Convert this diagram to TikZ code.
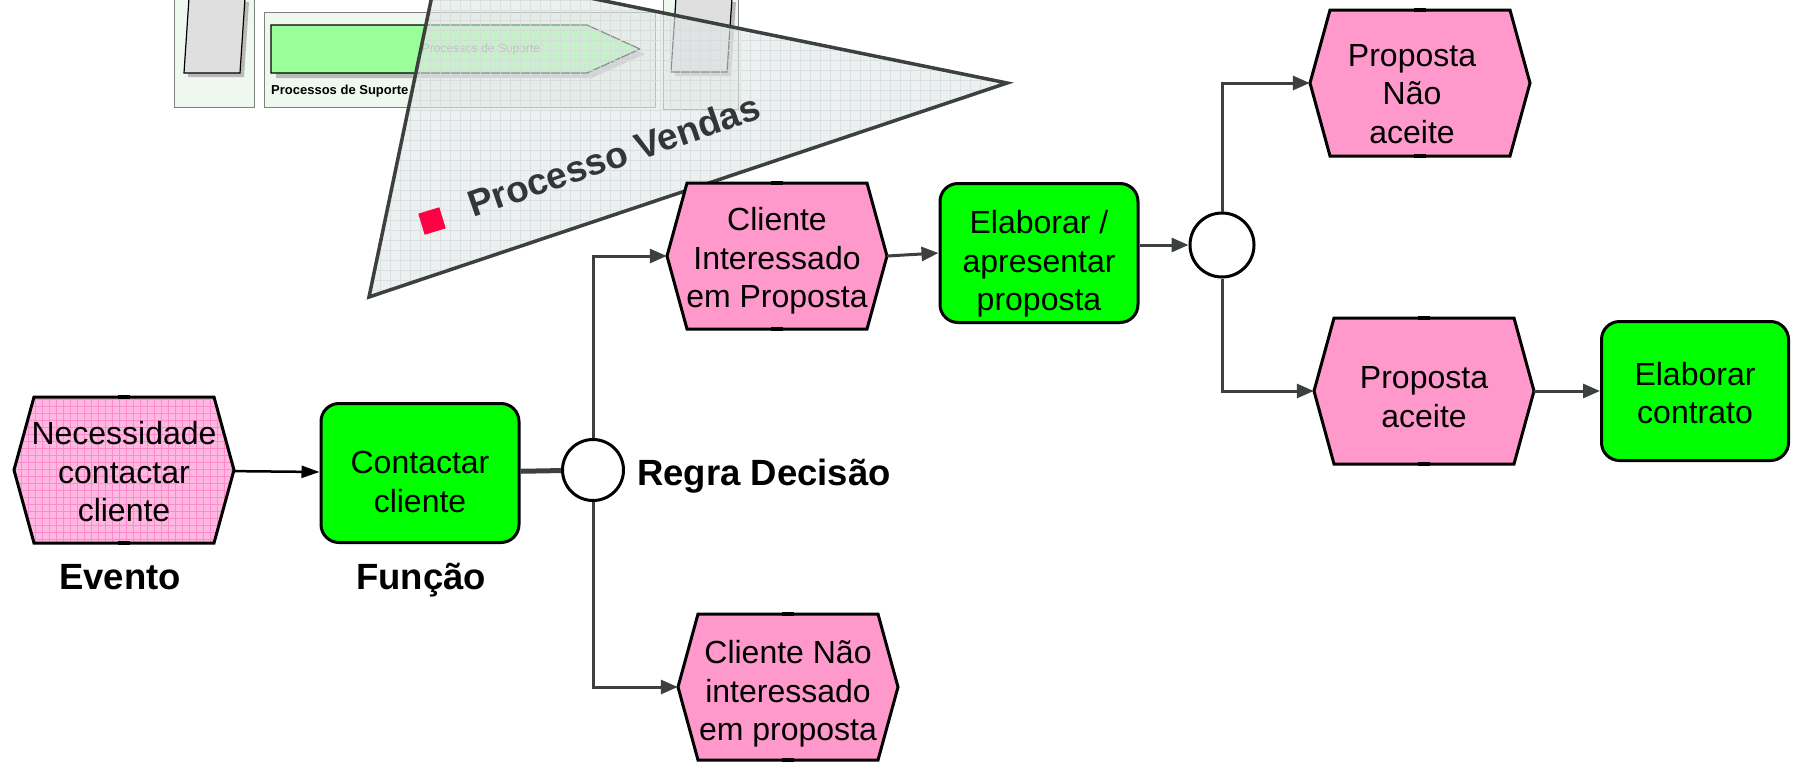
\documentclass[tikz,border=0pt]{standalone}
\usepackage{fontspec}
\setmainfont{Liberation Sans}
\usetikzlibrary{arrows.meta}

\definecolor{rosa}{HTML}{FF99CC}
\definecolor{rosaclaro}{HTML}{FFB8E2}
\definecolor{rosagrelha}{HTML}{FF8ACB}
\definecolor{verde}{HTML}{00FF00}
\definecolor{verdeclaro}{HTML}{99FF99}
\definecolor{painel}{HTML}{EEF8EE}
\definecolor{cinzalinha}{HTML}{3C403F}
\definecolor{cinzatri}{HTML}{E2E7E7}
\definecolor{grelha}{HTML}{D6DBDB}
\definecolor{vermelho}{HTML}{FF0044}

\tikzset{
	texto/.style={font=\fontsize{32}{38.5}\selectfont, align=center, inner sep=0pt},
	evento/.style={minimum width=220pt, minimum height=146pt, inner sep=0pt},
	funcao/.style={draw, line width=3pt, fill=verde, rounded corners=18pt, minimum width=198pt, minimum height=139pt, inner sep=0pt},
	regra/.style={circle, draw, line width=3pt, fill=white, minimum size=61pt, inner sep=0pt},
	rotulo/.style={font=\fontsize{36.5}{40}\selectfont\bfseries, inner sep=0pt},
	fluxo/.style={draw=cinzalinha, line width=3pt, -{Triangle[length=17pt,width=14pt]}},
	hexlinha/.style={draw, line width=3pt, fill=rosa},
	ladrilho/.style={fill=gray!25, draw=black, line width=1.2pt},
	sombra/.style={fill=gray!55},
}

% hexagono de evento: [opcoes] {x} {y}
\newcommand{\hexa}[3][]{%
	\draw[hexlinha,#1] (#2-110,#3) -- (#2-90,#3-73) -- (#2+90,#3-73) -- (#2+110,#3) -- (#2+90,#3+73) -- (#2-90,#3+73) -- cycle;
	\fill (#2-6,#3-75) rectangle (#2+6,#3-71);
	\fill (#2-6,#3+71) rectangle (#2+6,#3+75);
}

\begin{document}
\begin{tikzpicture}[x=1pt,y=-1pt]

	\useasboundingbox (0,0) rectangle (1793,761);
	\clip (0,0) rectangle (1793,761);

	% recorte do modelo de cima
	\filldraw[fill=painel, draw=gray, line width=1pt] (174,-2) rectangle (254,107);
	\fill[sombra] (193,2) -- (188,77) -- (244,77) -- (249,2) -- cycle;
	\draw[ladrilho] (189,-2) -- (184,73) -- (240,73) -- (245,-2) -- cycle;

	\filldraw[fill=painel, draw=gray, line width=1pt] (264,12) rectangle (655,107);
	\fill[sombra] (276,30) -- (592,30) -- (645,54) -- (592,78) -- (276,78) -- cycle;
	\filldraw[fill=verdeclaro, draw=black, line width=1.2pt] (271,25) -- (587,25) -- (640,49) -- (587,73) -- (271,73) -- cycle;
	\node[text=gray, font=\fontsize{12}{14}\selectfont, inner sep=0pt] (supA) at (481,49) {Processos de Suporte};
	\node[anchor=west, font=\fontsize{13}{15}\selectfont\bfseries, inner sep=0pt] (supB) at (271,91) {Processos de Suporte};

	\filldraw[fill=painel, draw=gray, line width=1pt] (663,-2) rectangle (738,109);
	\fill[sombra] (680,2) -- (675,76) -- (731,76) -- (736,2) -- cycle;
	\draw[ladrilho] (676,-2) -- (671,72) -- (727,72) -- (732,-2) -- cycle;

	% triangulo Processo Vendas
	\fill[cinzatri, fill opacity=0.62] (438,-33) -- (369,297) -- (1007,83) -- cycle;
	\begin{scope}
		\clip (438,-33) -- (369,297) -- (1007,83) -- cycle;
		\draw[grelha, line width=0.5pt, draw opacity=0.8, step=10pt] (360,-40) grid (1010,300);
	\end{scope}
	\draw[cinzalinha, line width=3.5pt, line join=miter] (438,-33) -- (369,297) -- (1007,83) -- cycle;
	\node[rotate=19, anchor=base, text=cinzalinha!85!black, font=\fontsize{37}{40}\selectfont\bfseries, inner sep=0pt] (vendas) at (618,168) {Processo Vendas};
	\node[fill=vermelho, minimum size=22pt, inner sep=0pt, rotate=17] (marca) at (432,221) {};

	% eventos
	\hexa[fill=rosaclaro, path picture={\draw[rosagrelha, line width=0.6pt, step=7pt] (path picture bounding box.south west) grid (path picture bounding box.north east);}]{124}{470}
	\hexa{777}{256}
	\hexa{788}{687}
	\hexa{1420}{83}
	\hexa{1424}{391}

	\node[evento, label={[texto, yshift=-2pt]center:{Necessidade\\contactar\\cliente}}] (nec) at (124,470) {};
	\node[evento, label={[texto, yshift=-5pt]center:{Cliente\\Interessado\\em Proposta}}] (cli) at (777,256) {};
	\node[evento, label={[texto, yshift=-7pt]center:{Cliente Não\\interessado\\em proposta}}] (clin) at (788,687) {};
	\node[evento, label={[texto, yshift=-11pt, xshift=-8pt]center:{Proposta\\Não\\aceite}}] (pna) at (1420,83) {};
	\node[evento, label={[texto, yshift=-6pt]center:{Proposta\\aceite}}] (pa) at (1424,391) {};

	% funcoes e regras
	\node[funcao, label={[texto, yshift=-9pt]center:{Contactar\\cliente}}] (cont) at (420,473) {};
	\node[funcao, label={[texto, yshift=-11pt]center:{Elaborar /\\apresentar\\proposta}}] (elab) at (1039,253) {};
	\node[funcao, minimum width=187pt, label={[texto, yshift=-2pt]center:{Elaborar\\contrato}}] (ec) at (1695,391) {};

	\node[regra] (d1) at (593,470) {};
	\node[regra, minimum size=64pt] (c2) at (1222,245) {};

	\node[rotulo, anchor=base] (lev) at (120,589) {Evento};
	\node[rotulo, anchor=base] (lfu) at (421,589) {Função};
	\node[rotulo, anchor=base west] (lre) at (637,485) {Regra Decisão};

	% ligacoes
	\draw[black, line width=2.5pt, -{Triangle[length=18pt,width=12pt]}] (nec) -- (cont);
	\draw[cinzalinha, line width=5pt] (cont) -- (d1);
	\draw[fluxo] (d1.north) |- (cli.west);
	\draw[fluxo] (d1.south) |- (clin.west);
	\draw[fluxo] (cli.east) -- (elab.west);
	\draw[fluxo] (elab.east |- c2.west) -- (c2.west);
	\draw[fluxo] (c2.north) |- (pna.west);
	\draw[fluxo] (c2.south) |- (pa.west);
	\draw[fluxo] (pa.east) -- (ec.west);

\end{tikzpicture}
\end{document}
